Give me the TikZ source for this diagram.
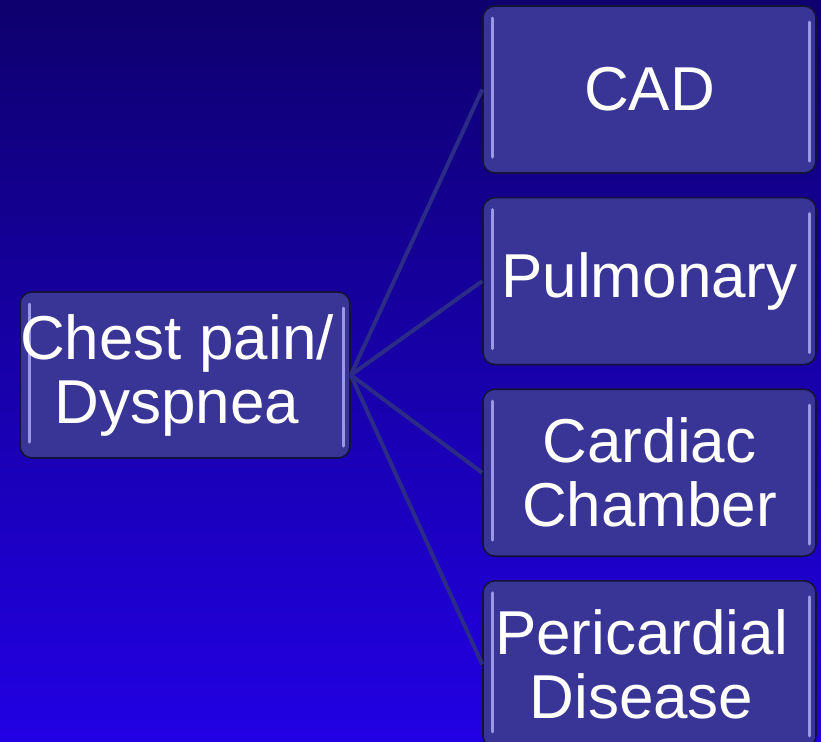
\documentclass[tikz,border=0pt]{standalone}
\usepackage{fontspec}
\setmainfont{Liberation Sans}
\usetikzlibrary{positioning}

\definecolor{bgtop}{HTML}{0E006E}
\definecolor{bgbottom}{HTML}{2200E4}
\definecolor{boxfill}{HTML}{383597}
\definecolor{boxedge}{HTML}{15133A}
\definecolor{boxshine}{HTML}{9A98E6}
\definecolor{linkcol}{HTML}{2C2C88}

\begin{document}
\begin{tikzpicture}[
  x=1pt, y=1pt,
  node distance=11.5pt,
  box/.style={draw=boxedge, fill=boxfill, line width=0.8pt, rounded corners=6pt, align=center, text=white,
    font=\fontsize{31}{32}\selectfont, inner sep=0pt, minimum width=166.5pt, minimum height=83.5pt,
    path picture={
      \draw[boxshine, line width=1.5pt, line cap=round]
        ([xshift=4.5pt,yshift=-6pt]path picture bounding box.north west) --
        ([xshift=4.5pt,yshift=8pt]path picture bounding box.south west);
      \draw[boxshine, line width=1.5pt, line cap=round]
        ([xshift=-3.5pt,yshift=-8pt]path picture bounding box.north east) --
        ([xshift=-3.5pt,yshift=6pt]path picture bounding box.south east);
    }},
  link/.style={draw=linkcol, line width=2pt}
]
  \useasboundingbox (0,0) rectangle (410.5,-370.5);
  \shade[top color=bgtop, bottom color=bgbottom] (0,0) rectangle (410.5,-370.5);

  \node[box, minimum width=165pt, minimum height=83pt] (chest) at (92.5,-187.5)
    {Chest pain/\hspace*{8pt}\\Dyspnea\hspace*{8pt}};
  \node[box] (cad) at (324.75,-44.75) {CAD};
  \node[box, below=of cad] (pulmonary) {Pulmonary};
  \node[box, below=of pulmonary] (chamber) {Cardiac\\Chamber};
  \node[box, below=of chamber] (pericardial) {Pericardial\hspace*{8pt}\\Disease\hspace*{8pt}};

  \foreach \target in {cad,pulmonary,chamber,pericardial}
    \draw[link] (chest.east) -- (\target.west);
\end{tikzpicture}
\end{document}
